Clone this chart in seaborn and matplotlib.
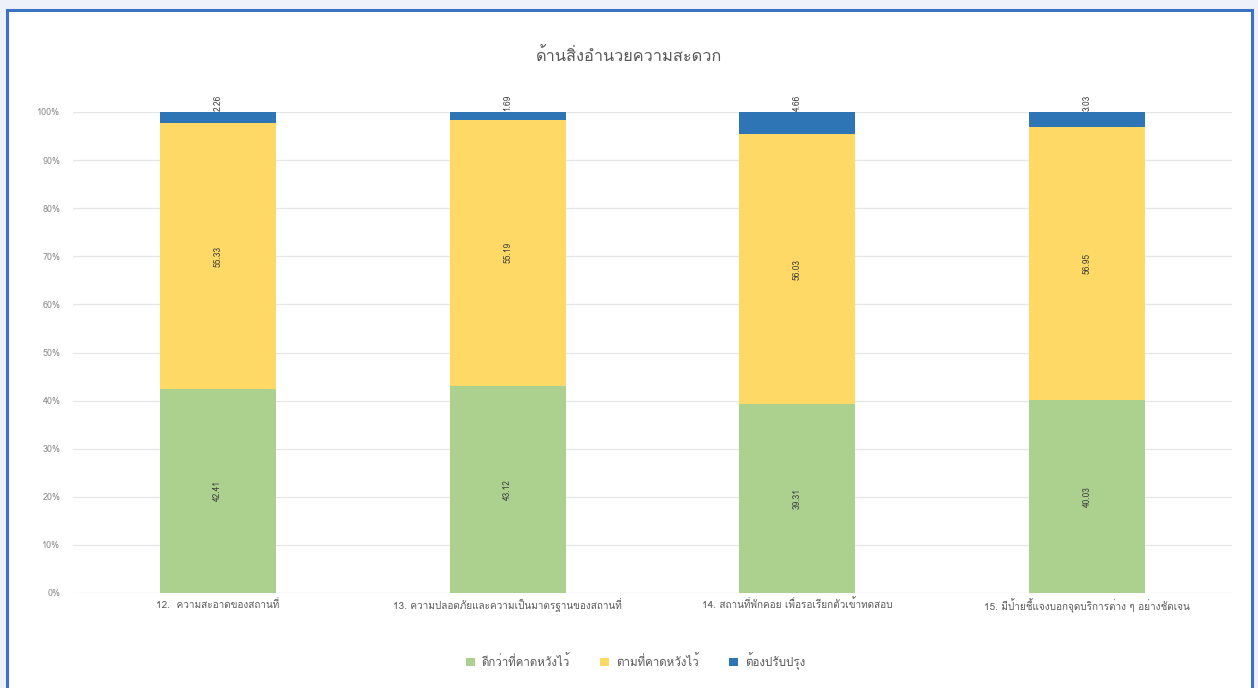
import matplotlib
matplotlib.use("Agg")
import matplotlib.pyplot as plt
import seaborn as sns
import pandas as pd
import numpy as np
from matplotlib import font_manager
from matplotlib.patches import Rectangle, Patch

categories = [
    "12.  ความสะอาดของสถานที่",
    "13. ความปลอดภัยและความเป็นมาตรฐานของสถานที่",
    "14. สถานที่พักคอย เพื่อรอเรียกตัวเข้าทดสอบ",
    "15. มีป้ายชี้แจงบอกจุดบริการต่าง ๆ อย่างชัดเจน",
]
better = [42.41, 43.12, 39.31, 40.03]
expected = [55.33, 55.19, 56.03, 56.95]
improve = [2.26, 1.69, 4.66, 3.03]
series_names = ["ดีกว่าที่คาดหวังไว้", "ตามที่คาดหวังไว้", "ต้องปรับปรุง"]
title = "ด้านสิ่งอำนวยความสะดวก"
yticks = [0, 10, 20, 30, 40, 50, 60, 70, 80, 90, 100]


def find_thai_font():
    try:
        from fontTools.ttLib import TTFont
    except Exception:
        return None
    for f in font_manager.fontManager.ttflist:
        try:
            kw = {}
            if f.fname.lower().endswith(".ttc"):
                kw["fontNumber"] = 0
            tt = TTFont(f.fname, lazy=True, **kw)
            cmap = tt.getBestCmap()
            if cmap and 0x0E14 in cmap and 0x0E27 in cmap and 0x0E32 in cmap:
                return f.name
        except Exception:
            continue
    return None


sns.set_theme(style="white")
thai = find_thai_font()
fams = ([thai] if thai else []) + ["DejaVu Sans"]
plt.rcParams["font.family"] = fams

green = "#acd18f"
yellow = "#ffd966"
blue = "#2e75b6"
txt = "#595959"

df = pd.DataFrame({
    "cat": categories,
    "b": better,
    "e": expected,
    "i": improve,
})
df["c1"] = df["b"]
df["c2"] = df["b"] + df["e"]
df["c3"] = df["b"] + df["e"] + df["i"]

fig = plt.figure(figsize=(12.58, 6.88), dpi=100)
fig.patch.set_facecolor("#eef0fa")
# white panel with blue frame
fig.patches.append(Rectangle((7 / 1258, -0.05), (1252 - 7) / 1258, 1.05 - 10 / 688,
                             transform=fig.transFigure, facecolor="white",
                             edgecolor="#3a72c4", linewidth=2.2, zorder=-10))

ax = fig.add_axes([73 / 1258, 1 - 593 / 688, (1232 - 73) / 1258, (593 - 112) / 688])
ax.set_facecolor("none")

for col, colr in [("c3", blue), ("c2", yellow), ("c1", green)]:
    sns.barplot(data=df, x="cat", y=col, color=colr, width=0.4, ax=ax,
                order=categories, saturation=1, zorder=3, linewidth=0,
                edgecolor="none")

ax.set_ylim(0, 100)
ax.set_xlim(-0.5, len(categories) - 0.5)
ax.set_yticks(yticks)
ax.set_yticklabels([f"{t}%" for t in yticks], fontsize=6.5, color="#8c8c8c")
ax.tick_params(axis="x", labelsize=7.2, labelcolor=txt, length=0, pad=4)
ax.tick_params(axis="y", length=0, pad=9)
ax.set_xlabel("")
ax.set_ylabel("")
for t in yticks:
    ax.axhline(t, color="#e6e6e6", lw=0.9, zorder=0)
for s in ax.spines.values():
    s.set_visible(False)

for i in range(len(categories)):
    ax.text(i, better[i] / 2, f"{better[i]:.2f}", rotation=90, ha="center", va="center",
            fontsize=6, color="#404040", zorder=5)
    ax.text(i, better[i] + expected[i] / 2, f"{expected[i]:.2f}", rotation=90,
            ha="center", va="center", fontsize=6, color="#404040", zorder=5)
    ax.annotate(f"{improve[i]:.2f}", (i, 100), xytext=(0, 1), textcoords="offset points",
                rotation=90, ha="center", va="bottom", fontsize=6, color="#404040",
                annotation_clip=False, zorder=5)

fig.text(0.5, 1 - 57 / 688, title, ha="center", va="center", fontsize=11.8, color="#595959")

handles = [Patch(facecolor=c, edgecolor="none") for c in [green, yellow, blue]]
fig.legend(handles, series_names, loc="center", bbox_to_anchor=(0.505, 1 - 661 / 688),
           ncol=3, frameon=False, fontsize=8.3, handlelength=0.8, handleheight=0.8,
           columnspacing=2.6, handletextpad=0.6, labelcolor=txt)

fig.savefig("out.png", dpi=100, facecolor=fig.get_facecolor())
